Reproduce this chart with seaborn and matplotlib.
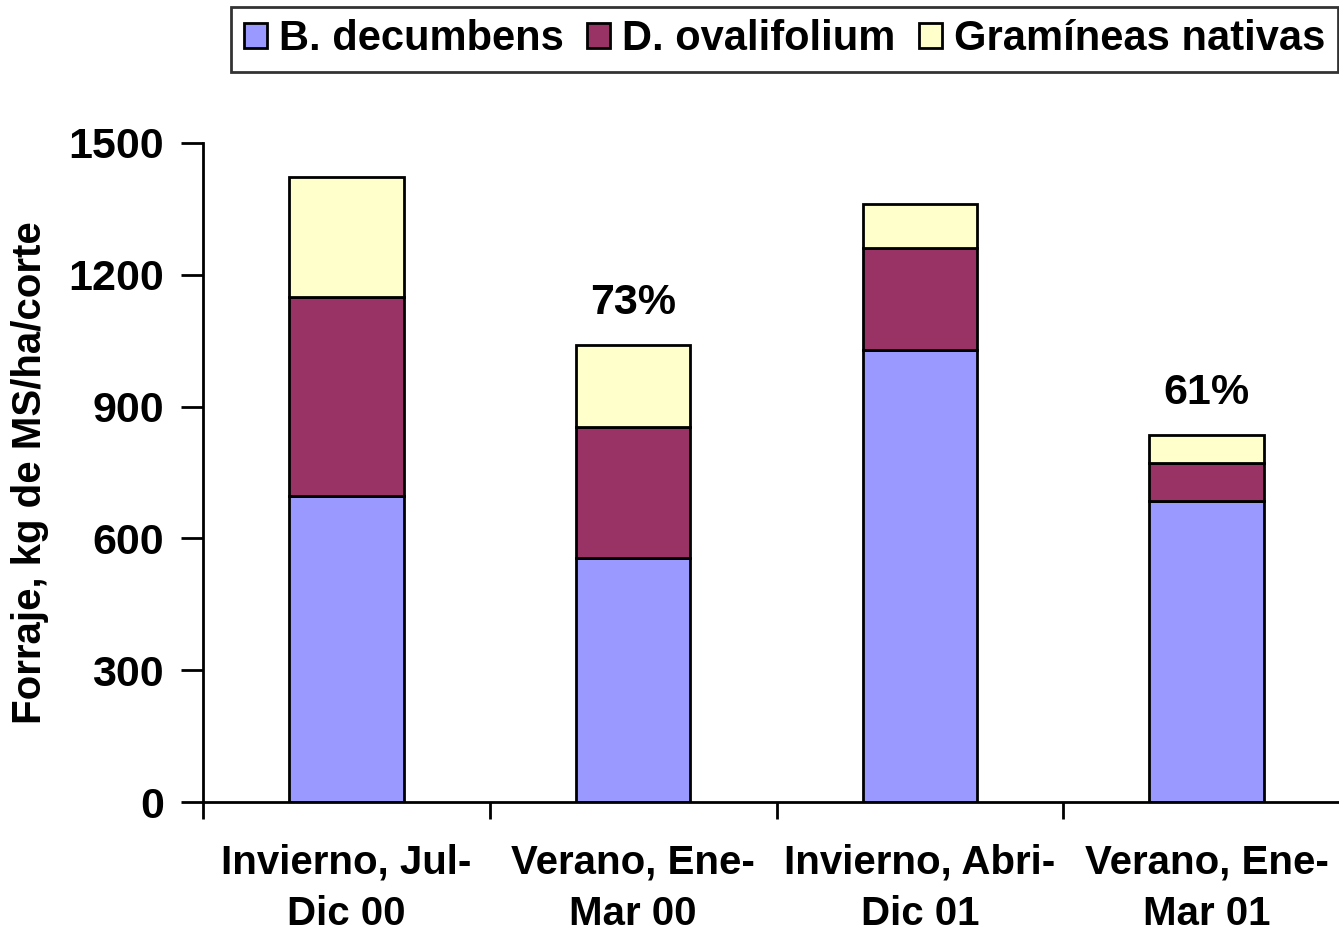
import matplotlib
matplotlib.use("Agg")
import matplotlib.pyplot as plt
import seaborn as sns
import numpy as np
import pandas as pd

categories = ["Invierno, Jul-\nDic 00", "Verano, Ene-\nMar 00", "Invierno, Abri-\nDic 01", "Verano, Ene-\nMar 01"]
b_decumbens = [697, 555, 1029, 685]
d_ovalifolium = [453, 299, 232, 87]
gramineas = [273, 186, 100, 63]
series_names = ["B. decumbens", "D. ovalifolium", "Gramíneas nativas"]
colors = ["#9999FF", "#993366", "#FFFFCC"]
annotations = {1: "73%", 3: "61%"}

sns.set_theme(style="white")
plt.rcParams['font.family'] = ['Liberation Sans', 'DejaVu Sans']
plt.rcParams['font.weight'] = 'bold'
plt.rcParams['text.color'] = 'black'
plt.rcParams['axes.labelcolor'] = 'black'
plt.rcParams['xtick.color'] = 'black'
plt.rcParams['ytick.color'] = 'black'

fig = plt.figure(figsize=(13.39, 9.34), dpi=100)
ax = fig.add_axes([203/1339, 132/934, (1350-203)/1339, (802-143)/934])

df = pd.DataFrame({"cat": categories, "B": b_decumbens, "D": d_ovalifolium, "G": gramineas})
bottoms = np.zeros(len(df))
for col, name, c in zip(["B", "D", "G"], series_names, colors):
    sns.barplot(data=df, x="cat", y=col, color=c, bottom=bottoms, width=0.40,
                edgecolor="black", linewidth=2, label=name, ax=ax, saturation=1)
    bottoms = bottoms + df[col].values

totals = bottoms
for i, txt in annotations.items():
    ax.annotate(txt, (i, totals[i]), xytext=(0, 16), textcoords="offset points",
                ha="center", va="bottom", fontsize=31, fontweight="bold", color="black")

ax.set_xlim(-0.5, 3.5)
ax.set_ylim(0, 1500)
ax.set_yticks([0, 300, 600, 900, 1200, 1500])
ax.set_yticklabels(["0", "300", "600", "900", "1200", "1500"], fontsize=31, fontweight="bold")
ax.set_xticks([-0.5, 0.5, 1.5, 2.5, 3.5])
ax.set_xticklabels([])
ax.set_xticks(range(4), minor=True)
ax.set_xticklabels(categories, minor=True, fontsize=29, fontweight="bold", linespacing=1.45)
ax.tick_params(axis="x", which="minor", length=0, pad=30)
ax.tick_params(axis="x", which="major", direction="out", length=12, width=2, color="black", bottom=True)
ax.tick_params(axis="y", direction="out", length=16, width=2, color="black", left=True, pad=12)
ax.set_xlabel("")
ax.set_ylabel("Forraje, kg de MS/ha/corte", fontsize=29, fontweight="bold", labelpad=14)

for s in ["top", "right"]:
    ax.spines[s].set_visible(False)
for s in ["left", "bottom"]:
    ax.spines[s].set_color("black")
    ax.spines[s].set_linewidth(2)

handles, labels = ax.get_legend_handles_labels()
leg = fig.legend(handles, labels, loc="upper right", bbox_to_anchor=(1338/1339, 1 - 7/934), ncol=3,
                 fontsize=30, frameon=True, fancybox=False, edgecolor="black",
                 handlelength=0.55, handleheight=0.55, handletextpad=0.3, columnspacing=0.55,
                 borderpad=0.3, borderaxespad=0)
leg.get_frame().set_linewidth(2)
for t in leg.get_texts():
    t.set_fontweight("bold")
if ax.get_legend():
    ax.get_legend().remove()

fig.savefig("out.png", dpi=100)
